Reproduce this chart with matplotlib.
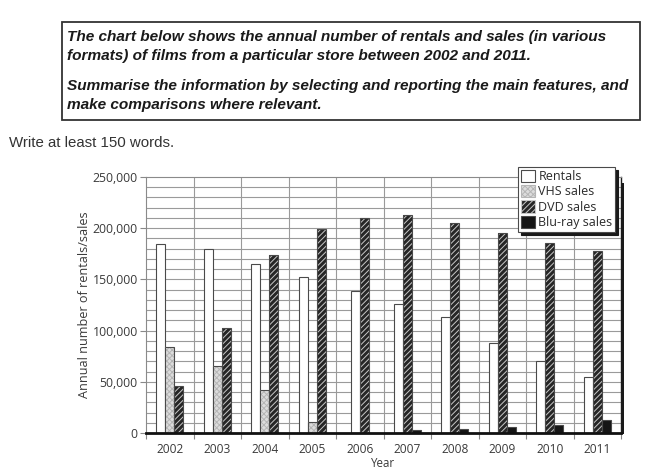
import matplotlib
matplotlib.use("Agg")
import matplotlib.pyplot as plt
from matplotlib.patches import Rectangle, Patch
import numpy as np

years = ["2002", "2003", "2004", "2005", "2006", "2007", "2008", "2009", "2010", "2011"]
series_names = ["Rentals", "VHS sales", "DVD sales", "Blu-ray sales"]
rentals = [185000, 180000, 165000, 152000, 139000, 126000, 113000, 88000, 70000, 55000]
vhs_sales = [84000, 65000, 42000, 11000, 0, 0, 0, 0, 0, 0]
dvd_sales = [46000, 103000, 174000, 199000, 210000, 213000, 205000, 195000, 186000, 178000]
bluray_sales = [0, 0, 0, 0, 0, 2500, 4000, 6000, 8000, 13000]
y_ticks = [0, 50000, 100000, 150000, 200000, 250000]

W, H = 665, 475
fig = plt.figure(figsize=(W / 100, H / 100), dpi=100)
fig.patch.set_facecolor("white")

def fx(px):
    return px / W

def fy(py):
    return 1 - py / H

# ---- header box ----
box_l, box_r, box_t, box_b = 62, 640, 22, 120
fig.patches.append(Rectangle((fx(box_l), fy(box_b)), fx(box_r - box_l), (box_b - box_t) / H,
                             transform=fig.transFigure, fill=False, edgecolor="#333333", lw=1.3))
hdr_kw = dict(fontfamily="Liberation Sans", fontweight="bold", fontstyle="italic",
              fontsize=11.1, color="#1a1a1a", va="center", ha="left")
tx = 67
fig.text(fx(tx), fy(37), "The chart below shows the annual number of rentals and sales (in various", **hdr_kw)
fig.text(fx(tx), fy(56), "formats) of films from a particular store between 2002 and 2011.", **hdr_kw)
fig.text(fx(tx), fy(86), "Summarise the information by selecting and reporting the main features, and", **hdr_kw)
fig.text(fx(tx), fy(105), "make comparisons where relevant.", **hdr_kw)
fig.text(fx(9), fy(143), "Write at least 150 words.", fontfamily="Liberation Sans", fontsize=10.8,
         color="#333333", va="center", ha="left")

# ---- axes ----
ax_l, ax_r, ax_t, ax_b = 146, 621, 177, 433
ax = fig.add_axes([fx(ax_l), fy(ax_b), fx(ax_r - ax_l), (ax_b - ax_t) / H])
# drop shadow of plot area
fig.patches.append(Rectangle((fx(ax_l + 3), fy(ax_b + 1)), fx(ax_r - ax_l), (ax_b - ax_t - 5) / H,
                             transform=fig.transFigure, facecolor="#1a1a1a", edgecolor="none", zorder=-5))

font = "Open Sans"
n = len(years)
x = np.arange(n)
bw = 0.19

styles = [
    dict(face="white", hatch=None, hcol=None),
    dict(face="#dcdcdc", hatch="xxxxxx", hcol="#b5b5b5"),
    dict(face="#262626", hatch="//////", hcol="#c8c8c8"),
    dict(face="#151515", hatch=None, hcol=None),
]
data = [rentals, vhs_sales, dvd_sales, bluray_sales]

plt.rcParams["hatch.linewidth"] = 0.7
for i in range(n):
    present = [s for s in range(4) if data[s][i] > 0]
    k = len(present)
    for j, s in enumerate(present):
        xpos = x[i] + (j - (k - 1) / 2) * bw
        st = styles[s]
        if st["hatch"]:
            ax.bar(xpos, data[s][i], width=bw, color=st["face"], hatch=st["hatch"],
                   edgecolor=st["hcol"], linewidth=0, zorder=3)
            ax.bar(xpos, data[s][i], width=bw, fill=False, edgecolor="#4a4a4a", linewidth=0.8, zorder=4)
        else:
            ax.bar(xpos, data[s][i], width=bw, color=st["face"], edgecolor="#4a4a4a",
                   linewidth=0.8, zorder=3)

ax.set_xlim(-0.5, n - 0.5)
ax.set_ylim(0, 250000)

# grid
for yv in range(10000, 250000, 10000):
    ax.axhline(yv, color="#9a9a9a", lw=0.8, zorder=1)
for xb in np.arange(0.5, n - 0.5, 1):
    ax.axvline(xb, color="#9a9a9a", lw=0.8, zorder=1)

ax.set_yticks(y_ticks)
ax.set_yticklabels([f"{v:,}" for v in y_ticks])
ax.set_xticks(np.arange(-0.5, n, 1))
ax.set_xticklabels([])
ax.set_xticks(x, minor=True)
ax.set_xticklabels(years, minor=True)
ax.tick_params(axis="x", which="major", length=4, width=0.8, color="#888888", direction="out")
ax.tick_params(axis="x", which="minor", length=0, pad=7, labelsize=8.6, labelcolor="#3a3a3a")
ax.tick_params(axis="y", length=4, width=0.8, color="#888888", pad=2, labelsize=8.8, labelcolor="#3a3a3a")
for lab in ax.get_xticklabels(minor=True) + ax.get_yticklabels():
    lab.set_fontfamily(font)

for side in ["left", "top"]:
    ax.spines[side].set_color("#8a8a8a")
    ax.spines[side].set_linewidth(0.8)
ax.spines["right"].set_color("#1a1a1a")
ax.spines["right"].set_linewidth(1.0)
ax.spines["bottom"].set_color("#111111")
ax.spines["bottom"].set_linewidth(2.0)
ax.spines["bottom"].set_zorder(6)

ax.set_ylabel("Annual number of rentals/sales", fontfamily=font, fontsize=9.1, color="#3a3a3a", labelpad=1)
ax.set_xlabel("Year", fontfamily=font, fontsize=8.3, color="#3a3a3a", labelpad=1)

# legend
handles = []
for s in range(4):
    st = styles[s]
    if st["hatch"]:
        handles.append(Patch(facecolor=st["face"], hatch=st["hatch"], edgecolor=st["hcol"], linewidth=0.8))
    else:
        handles.append(Patch(facecolor=st["face"], edgecolor="#4a4a4a", linewidth=0.8))
leg = fig.legend(handles, series_names, loc="upper left",
                 bbox_to_anchor=(fx(518), fy(167)), bbox_transform=fig.transFigure,
                 prop={"family": font, "size": 9.0}, frameon=True, fancybox=False,
                 shadow={"color": "#1a1a1a", "alpha": 1.0},
                 borderpad=0.22, labelspacing=0.15, handlelength=1.15, handleheight=1.15,
                 handletextpad=0.25, borderaxespad=0.0)
leg.get_frame().set_edgecolor("#4a4a4a")
leg.get_frame().set_linewidth(0.8)
for t in leg.get_texts():
    t.set_color("#2a2a2a")
leg.set_zorder(10)

fig.savefig("out.png", dpi=100, facecolor="white")
